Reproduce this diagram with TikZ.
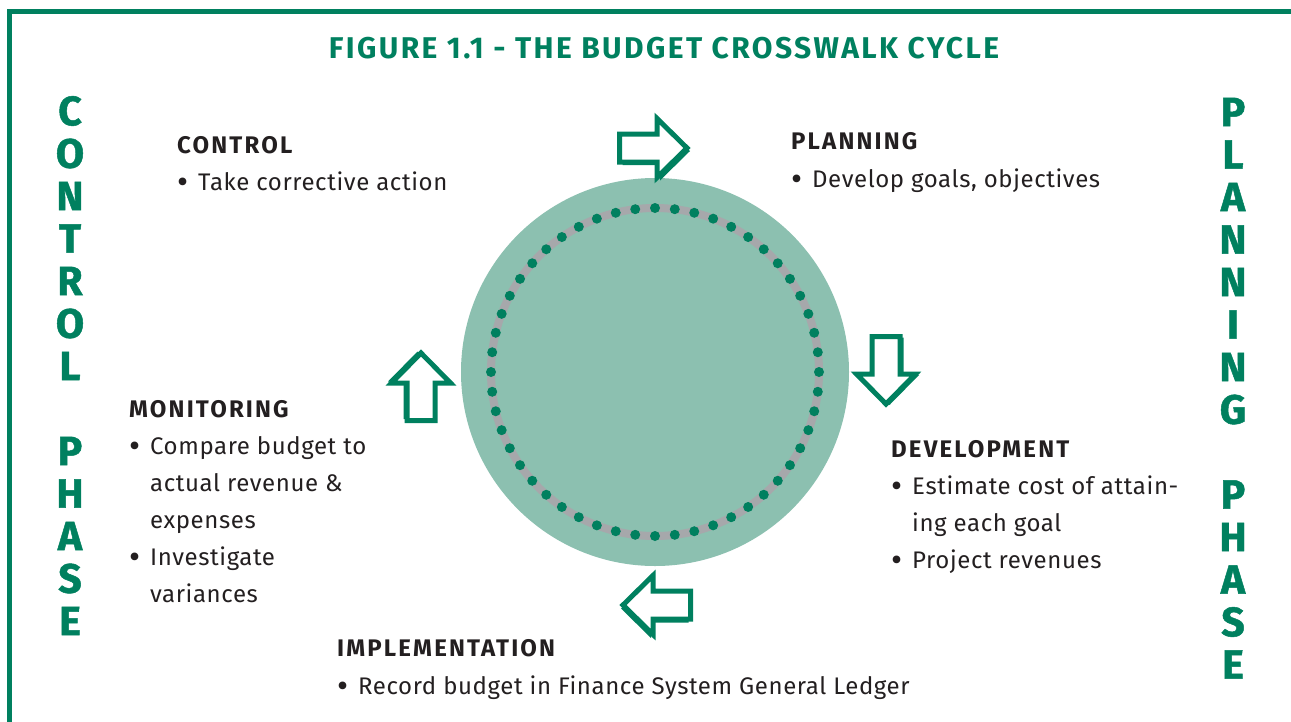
\documentclass[tikz,border=0pt]{standalone}
\usepackage{fontspec}
\setmainfont{Fira Sans}[LetterSpace=2.5]
\newfontfamily\headfont{Fira Sans}[LetterSpace=9]
\newfontfamily\titlefont{Fira Sans}[LetterSpace=8]
\newfontfamily\phasefont{Fira Sans}[FakeBold=1.2]
\definecolor{brandgreen}{HTML}{00805F}
\definecolor{discgreen}{HTML}{8CC0B0}
\definecolor{ringgray}{HTML}{A6A8AB}
\definecolor{inkdark}{HTML}{231F20}

% list bullet with a fixed hanging indent
\newcommand{\bul}{\makebox[21pt][l]{\raisebox{-3pt}{\fontsize{34}{34}\selectfont\textbullet}}}
\newcommand{\hang}{\hspace*{21pt}}

% block arrow pointing along +x, centred on the origin
\def\arrowshape{(-34.5,-14) -- (3,-14) -- (3,-29.5) -- (33,0) -- (3,29.5) -- (3,14) -- (-34.5,14) -- cycle}
% #1,#2 centre, #3 rotation, #4,#5 shadow offset
\newcommand{\blockarrow}[5]{%
  \begin{scope}[shift={({#1+#4},{#2+#5})},rotate=#3]
    \fill[brandgreen] \arrowshape;
  \end{scope}
  \begin{scope}[shift={(#1,#2)},rotate=#3]
    \filldraw[fill=white,draw=brandgreen,line width=5,line join=miter] \arrowshape;
  \end{scope}}

\begin{document}
\begin{tikzpicture}[x=1pt,y=-1pt,
  heading/.style={anchor=base west,inner sep=0pt,text=inkdark,
    font=\headfont\bfseries\fontsize{24}{24}\selectfont},
  body/.style={anchor=base west,inner sep=0pt,text=inkdark,
    font=\fontsize{24}{28}\selectfont},
  phase/.style={inner sep=0pt,text=brandgreen,
    font=\phasefont\bfseries\fontsize{41}{41}\selectfont},
  title/.style={anchor=base,inner sep=0pt,text=brandgreen,
    font=\titlefont\bfseries\fontsize{30}{30}\selectfont}]

\useasboundingbox (0,0) rectangle (1291,721);

% frame
\draw[brandgreen,line width=5,line cap=rect] (9,730) -- (9,11.5) -- (1300,11.5);

% title
\node[title] (title) at (664,58) {FIGURE 1.1 - THE BUDGET CROSSWALK CYCLE};

% vertical phase labels
\foreach \ch/\k in {C/0,O/1,N/2,T/3,R/4,O/5,L/6,P/8,H/9,A/10,S/11,E/12}
  \node[phase] (ctl\k) at (70,{111+42.5*\k}) {\ch};
\foreach \ch/\k in {P/0,L/1,A/2,N/3,N/4,I/5,N/6,G/7,P/9,H/10,A/11,S/12,E/13}
  \node[phase] (pln\k) at (1233,{112+42.5*\k}) {\ch};

% central disc with dotted ring
\fill[discgreen] (655,372) circle (194);
\draw[ringgray,line width=8] (655,372) circle (164);
\foreach \k in {0,...,51}
  \fill[brandgreen] (655,372) ++({90+6.923077*\k}:164) circle (5);

% cycle arrows
\blockarrow{654}{148}{0}{3}{3}
\blockarrow{886}{371}{-90}{3.5}{1}
\blockarrow{656}{605}{180}{-2}{3.5}
\blockarrow{421}{386}{90}{-3.5}{-1.5}

% control
\node[heading] (ctlH) at (177,153) {CONTROL};
\node[body] (ctlA) at (177,190) {\bul Take corrective action};

% planning
\node[heading] (plnH) at (791,149) {PLANNING};
\node[body] (plnA) at (791,187) {\bul Develop goals, objectives};

% development
\node[heading] (devH) at (891,457) {DEVELOPMENT};
\node[body] (devA) at (891,494) {\bul Estimate cost of attain-};
\node[body] (devB) at (891,531) {\hang ing each goal};
\node[body] (devC) at (891,568) {\bul Project revenues};

% monitoring
\node[heading] (monH) at (129,417) {MONITORING};
\node[body] (monA) at (129,454) {\bul Compare budget to};
\node[body] (monB) at (129,491) {\hang actual revenue \&};
\node[body] (monC) at (129,528) {\hang expenses};
\node[body] (monD) at (129,565) {\bul Investigate};
\node[body] (monE) at (129,602) {\hang variances};

% implementation
\node[heading] (impH) at (337,656) {IMPLEMENTATION};
\node[body] (impA) at (337,694) {\bul Record budget in Finance System General Ledger};

\end{tikzpicture}
\end{document}
